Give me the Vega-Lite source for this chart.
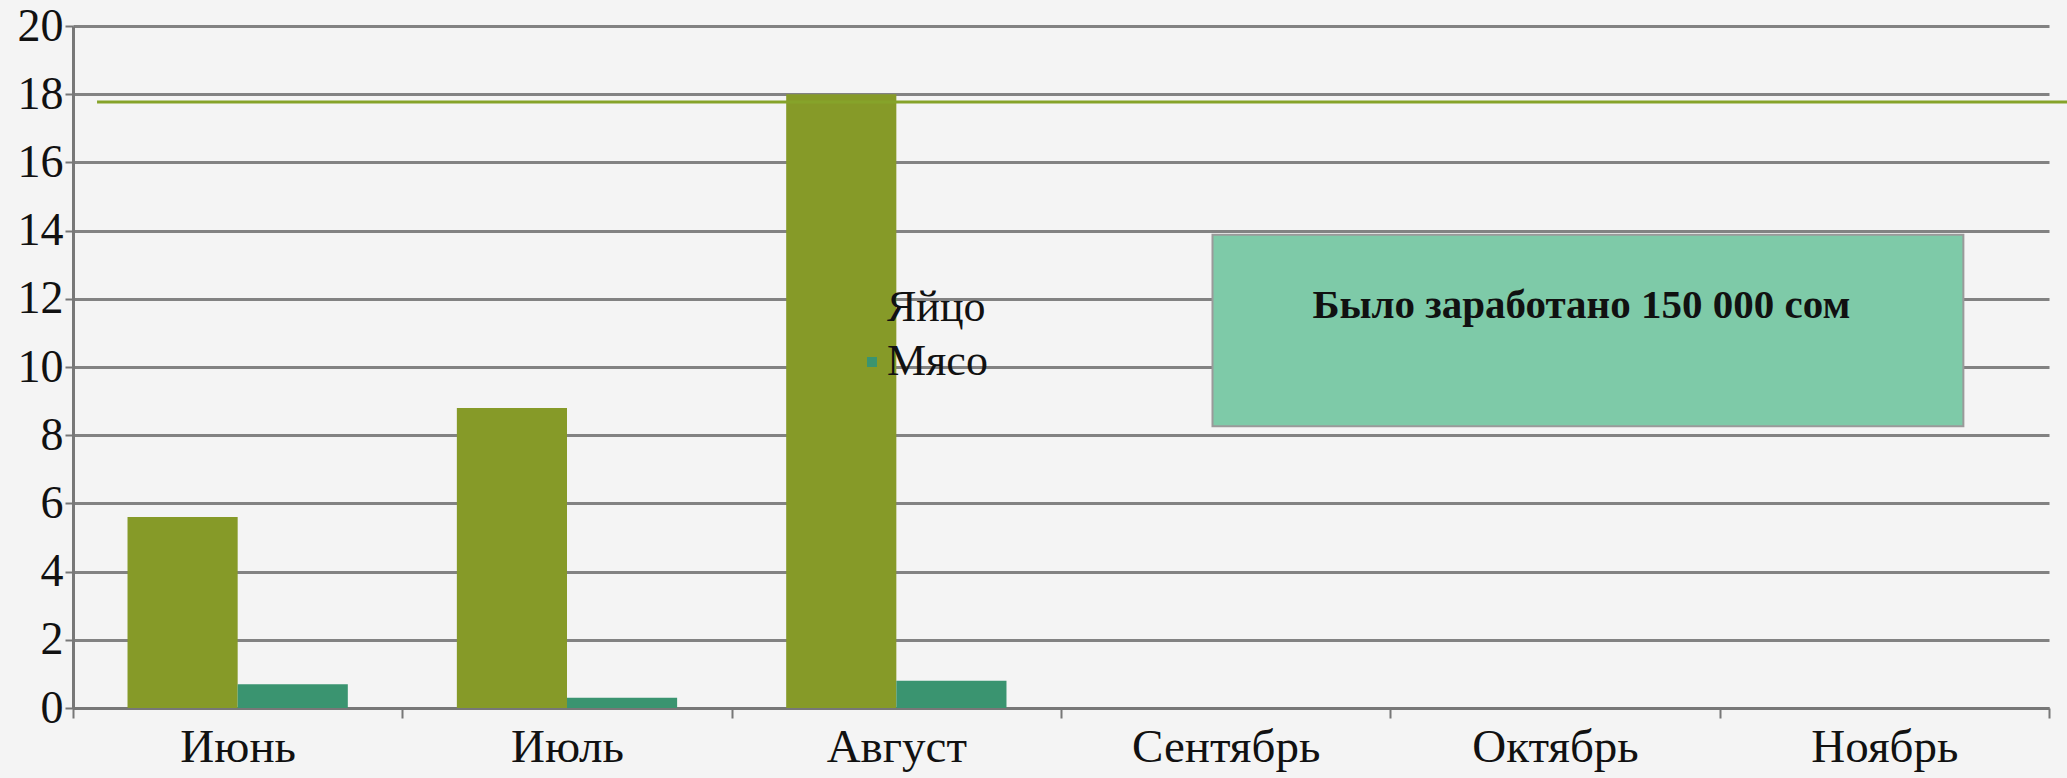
{
  "$schema": "https://vega.github.io/schema/vega-lite/v6.json",
  "width": 1976,
  "height": 682,
  "autosize": {"type": "none"},
  "padding": {"left": 73, "top": 26, "right": 18, "bottom": 70},
  "background": "#f4f4f4",
  "config": {
    "view": {"stroke": null},
    "font": "Liberation Serif",
    "axis": {
      "labelFont": "Liberation Serif",
      "labelColor": "#111111",
      "labelLimit": 500,
      "domainColor": "#777777",
      "domainWidth": 3,
      "tickColor": "#777777",
      "tickWidth": 2,
      "gridColor": "#767676",
      "gridWidth": 3,
      "gridOpacity": 0.9
    }
  },
  "datasets": {
    "sales": [
      {"month": "Июнь", "series": "Яйцо", "value": 5.6},
      {"month": "Июнь", "series": "Мясо", "value": 0.7},
      {"month": "Июль", "series": "Яйцо", "value": 8.8},
      {"month": "Июль", "series": "Мясо", "value": 0.3},
      {"month": "Август", "series": "Яйцо", "value": 18.0},
      {"month": "Август", "series": "Мясо", "value": 0.8}
    ],
    "note": [
      {"x0": 3.46, "x1": 5.74, "y0": 8.26, "y1": 13.88, "tx": 4.58, "ty": 11.8, "label": "Было заработано 150 000 сом"}
    ],
    "deco": [
      {"x0": 0.073, "x1": 6.06, "y": 17.77}
    ]
  },
  "layer": [
    {
      "data": {"name": "sales"},
      "mark": {"type": "bar"},
      "encoding": {
        "x": {
          "field": "month",
          "type": "nominal",
          "scale": {
            "domain": ["Июнь", "Июль", "Август", "Сентябрь", "Октябрь", "Ноябрь"],
            "paddingInner": 0,
            "paddingOuter": 0
          },
          "axis": {
            "title": null,
            "labelAngle": 0,
            "labelFontSize": 47,
            "labelPadding": 6,
            "labelLimit": 500,
            "tickBand": "extent",
            "tickSize": 10,
            "grid": false,
            "domain": true
          }
        },
        "xOffset": {
          "field": "series",
          "type": "nominal",
          "scale": {"domain": ["Яйцо", "Мясо"], "paddingInner": 0, "paddingOuter": 0.495}
        },
        "y": {
          "field": "value",
          "type": "quantitative",
          "scale": {"domain": [0, 20], "nice": false},
          "axis": {
            "title": null,
            "values": [0, 2, 4, 6, 8, 10, 12, 14, 16, 18, 20],
            "labelFontSize": 46,
            "labelPadding": 2,
            "tickSize": 8,
            "grid": true,
            "domain": true
          }
        },
        "color": {
          "field": "series",
          "type": "nominal",
          "scale": {"domain": ["Яйцо", "Мясо"], "range": ["#869a28", "#3a9470"]},
          "legend": {
            "title": null,
            "orient": "none",
            "legendX": 777,
            "legendY": 260,
            "symbolType": "square",
            "symbolSize": 100,
            "symbolStrokeWidth": 0,
            "labelFontSize": 44,
            "labelFont": "Liberation Serif",
            "labelColor": "#111111",
            "labelOffset": -7,
            "rowPadding": 10,
            "padding": 0
          }
        }
      }
    },
    {
      "data": {"name": "note"},
      "mark": {"type": "rect", "fill": "#7ecaa8", "stroke": "#9a9a9a", "strokeWidth": 2},
      "encoding": {
        "x": {"field": "x0", "type": "quantitative", "scale": {"domain": [0, 6], "nice": false, "zero": true}, "axis": null},
        "x2": {"field": "x1"},
        "y": {"field": "y0", "type": "quantitative"},
        "y2": {"field": "y1"}
      }
    },
    {
      "data": {"name": "note"},
      "mark": {"type": "text", "font": "Liberation Serif", "fontWeight": "bold", "fontSize": 41, "color": "#111111", "align": "center", "baseline": "middle"},
      "encoding": {
        "x": {"field": "tx", "type": "quantitative", "scale": {"domain": [0, 6], "nice": false}, "axis": null},
        "y": {"field": "ty", "type": "quantitative"},
        "text": {"field": "label"}
      }
    },
    {
      "data": {"name": "deco"},
      "mark": {"type": "rule", "color": "#86a32a", "strokeWidth": 3, "clip": false},
      "encoding": {
        "x": {"field": "x0", "type": "quantitative", "scale": {"domain": [0, 6], "nice": false}, "axis": null},
        "x2": {"field": "x1"},
        "y": {"field": "y", "type": "quantitative"}
      }
    }
  ],
  "resolve": {"scale": {"x": "independent", "color": "independent"}, "axis": {"x": "independent"}}
}
